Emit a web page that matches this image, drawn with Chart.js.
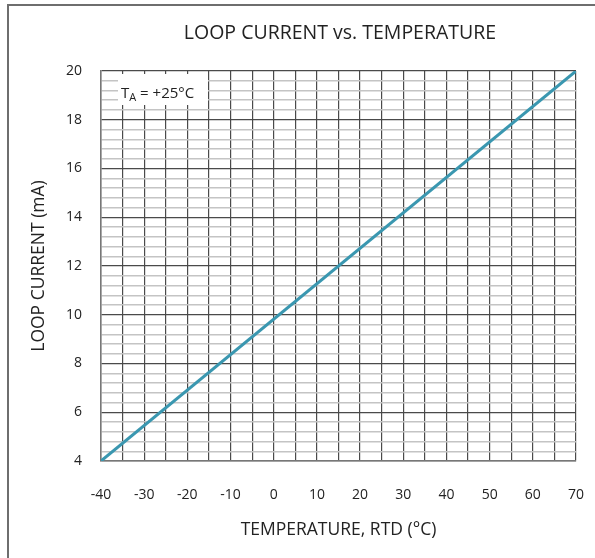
<!DOCTYPE html>
<html>
<head>
<meta charset="utf-8">
<script src="https://cdn.jsdelivr.net/npm/chart.js@4/dist/chart.umd.min.js"></script>
<style>
  html, body { margin: 0; padding: 0; background: #fff; }
  #wrap { position: relative; width: 595px; height: 558px; overflow: hidden; }
  #frame { position: absolute; left: 7px; top: 4px; width: 700px; height: 700px;
           border-left: 2px solid #6e6e6e; border-top: 2px solid #6e6e6e; pointer-events: none; }
  canvas { position: absolute; left: 0; top: 0; }
</style>
</head>
<body>
<div id="wrap">
  <canvas id="c" width="595" height="558"></canvas>
  <div id="frame"></div>
</div>
<script>
// ---- data ----
const temperatureC = [-40, 70];
const loopCurrentMA = [4, 20];
const xTickLabels = [-40, -30, -20, -10, 0, 10, 20, 30, 40, 50, 60, 70];
const yTickLabels = [4, 6, 8, 10, 12, 14, 16, 18, 20];
const xGridStep = 5;
const yGridStep = 0.4;
const chartTitle = 'LOOP CURRENT vs. TEMPERATURE';
const xAxisTitle = 'TEMPERATURE, RTD (°C)';
const yAxisTitle = 'LOOP CURRENT (mA)';
const noteMain = 'T';
const noteSub = 'A';
const noteRest = ' = +25°C';

const FONT = '"Open Sans", "DejaVu Sans", sans-serif';
const MAJOR = '#4a4a4a';
const MINOR = '#c4c4c4';

function buildGrid(min, max, step) {
  const out = [];
  const n = Math.round((max - min) / step);
  for (let i = 0; i <= n; i++) out.push({ value: +(min + i * step).toFixed(4) });
  return out;
}
function isLabel(list, v) { return list.some(t => Math.abs(t - v) < 1e-6); }

const titleAndNote = {
  id: 'titleAndNote',
  afterDatasetsDraw(chart) {
    const { ctx, chartArea } = chart;
    ctx.save();
    // note box
    const bx = chartArea.left + 17, by = chartArea.top + 3;
    ctx.fillStyle = '#fff';
    ctx.fillRect(bx, by, 90, 31);
    ctx.fillStyle = '#222';
    ctx.textBaseline = 'alphabetic';
    ctx.textAlign = 'left';
    let x = chartArea.left + 20;
    const base = chartArea.top + 27;
    ctx.font = '15px ' + FONT;
    ctx.fillText(noteMain, x, base);
    x += ctx.measureText(noteMain).width;
    ctx.font = '11px ' + FONT;
    ctx.fillText(noteSub, x, base + 3);
    x += ctx.measureText(noteSub).width;
    ctx.font = '15px ' + FONT;
    ctx.fillText(noteRest, x, base);
    // title
    ctx.font = '19.5px ' + FONT;
    ctx.textAlign = 'center';
    ctx.textBaseline = 'middle';
    ctx.fillText(chartTitle, 340, 33);
    ctx.restore();
  }
};

new Chart(document.getElementById('c'), {
  type: 'line',
  data: {
    datasets: [{
      data: temperatureC.map((t, i) => ({ x: t, y: loopCurrentMA[i] })),
      borderColor: '#3a97b0',
      borderWidth: 3,
      pointRadius: 0,
      tension: 0,
      fill: false
    }]
  },
  options: {
    responsive: false,
    animation: false,
    devicePixelRatio: 1,
    layout: { padding: { top: 71, right: 19, left: 0, bottom: 0 } },
    plugins: { legend: { display: false }, tooltip: { enabled: false }, title: { display: false } },
    scales: {
      x: {
        type: 'linear',
        min: xTickLabels[0],
        max: xTickLabels[xTickLabels.length - 1],
        afterBuildTicks: s => { s.ticks = buildGrid(s.min, s.max, xGridStep); },
        afterFit: s => { s.height = 97; s.paddingLeft = 0; s.paddingRight = 0; },
        ticks: {
          autoSkip: false, maxRotation: 0, padding: 26,
          color: '#222', font: { family: FONT, size: 14 },
          callback: v => isLabel(xTickLabels, v) ? String(v) : ''
        },
        grid: { color: MAJOR, lineWidth: 1.2, drawTicks: false },
        border: { color: '#777', width: 1.5 },
        title: { display: true, text: xAxisTitle, color: '#222', font: { family: FONT, size: 17.5 }, padding: { top: 0, bottom: 17 } }
      },
      y: {
        type: 'linear',
        min: yTickLabels[0],
        max: yTickLabels[yTickLabels.length - 1],
        afterBuildTicks: s => { s.ticks = buildGrid(s.min, s.max, yGridStep); },
        afterFit: s => { s.width = 101; s.paddingTop = 0; s.paddingBottom = 0; },
        ticks: {
          autoSkip: false, padding: 19,
          color: '#222', font: { family: FONT, size: 14 },
          callback: v => isLabel(yTickLabels, v) ? String(v) : ''
        },
        grid: {
          drawTicks: false,
          color: c => isLabel(yTickLabels, c.tick.value) ? MAJOR : MINOR,
          lineWidth: c => isLabel(yTickLabels, c.tick.value) ? 1.2 : 1.5
        },
        border: { color: '#777', width: 1.5 },
        title: { display: true, text: yAxisTitle, color: '#222', font: { family: FONT, size: 17.5 }, padding: { top: 29, bottom: 0 } }
      }
    }
  },
  plugins: [titleAndNote]
});
</script>
</body>
</html>
